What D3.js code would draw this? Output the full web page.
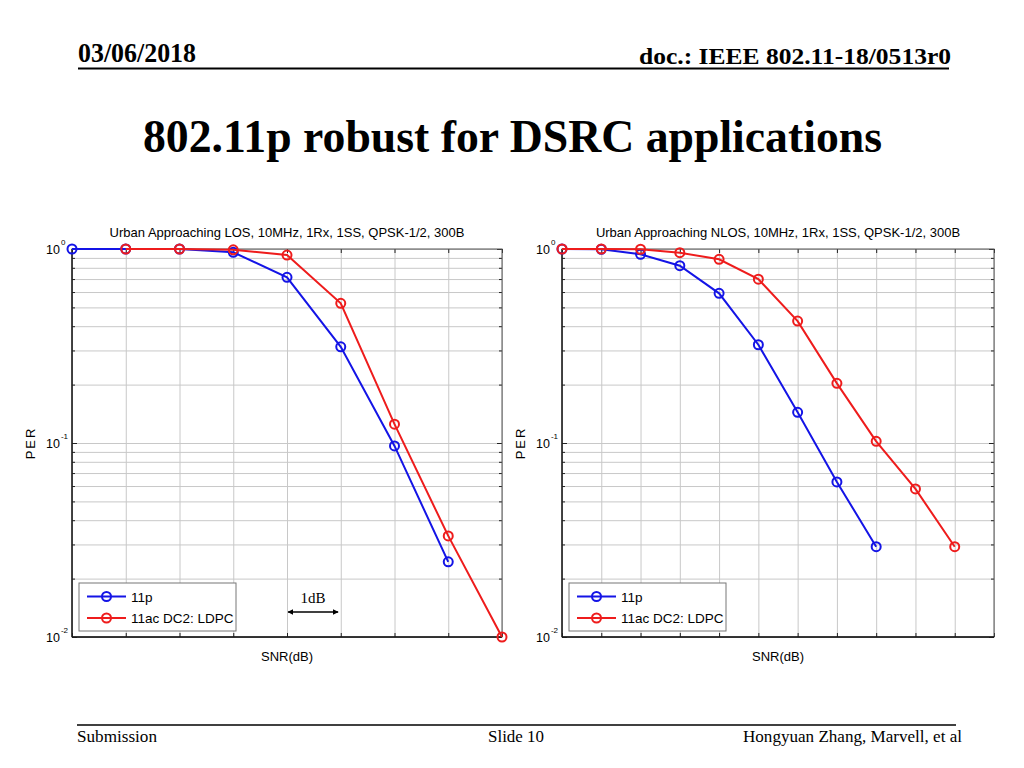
<!DOCTYPE html>
<html>
<head>
<meta charset="utf-8">
<script src="https://cdn.jsdelivr.net/npm/d3@7"></script>
<style>
  body { margin: 0; background: #fff; }
  .slide text { font-family: "Liberation Serif", "Times New Roman", serif; fill: #000; }
  .chart text { font-family: "Liberation Sans", Arial, sans-serif; fill: #000; }
  .grid line { stroke: #c8c8c8; stroke-width: 1; }
  .grid .domain { display: none; }
  .ticks line { stroke: #222; stroke-width: 1; }
  .ticks .domain { display: none; }
</style>
</head>
<body>
<div id="slide"></div>
<script>
// LOS panel values (SNR step index, PER)
const losSnr11p = [0, 1, 2, 3, 4, 5, 6, 7];
const losPer11p = [1.0, 1.0, 1.0, 0.962, 0.715, 0.313, 0.0966, 0.0244];
const losSnr11ac = [1, 2, 3, 4, 5, 6, 7, 8];
const losPer11ac = [1.0, 1.0, 0.99, 0.931, 0.525, 0.125, 0.0332, 0.01];
const losTicks = [0, 1, 2, 3, 4, 5, 6, 7, 8];

// NLOS panel values
const nlosSnr11p = [0, 1, 2, 3, 4, 5, 6, 7, 8];
const nlosPer11p = [1.0, 0.997, 0.939, 0.82, 0.591, 0.321, 0.144, 0.063, 0.0292];
const nlosSnr11ac = [0, 1, 2, 3, 4, 5, 6, 7, 8, 9, 10];
const nlosPer11ac = [1.0, 1.0, 0.997, 0.957, 0.885, 0.699, 0.425, 0.203, 0.102, 0.058, 0.0292];
const nlosTicks = [0, 1, 2, 3, 4, 5, 6, 7, 8, 9, 10, 11];

const perTicks = [1, 0.1, 0.01];
const perTickExp = ["0", "-1", "-2"];
const perMinorTicks = [0.9, 0.8, 0.7, 0.6, 0.5, 0.4, 0.3, 0.2, 0.09, 0.08, 0.07, 0.06, 0.05, 0.04, 0.03, 0.02];

const seriesNames = ["11p", "11ac DC2: LDPC"];
const seriesColors = ["#1414e6", "#ee1c1c"];

const svg = d3.select("#slide").append("svg")
    .attr("width", 1024)
    .attr("height", 768)
    .attr("class", "slide");

const defs = svg.append("defs");
defs.append("marker")
    .attr("id", "arrow")
    .attr("viewBox", "0 0 10 10")
    .attr("refX", 9)
    .attr("refY", 5)
    .attr("markerWidth", 4)
    .attr("markerHeight", 4)
    .attr("orient", "auto-start-reverse")
  .append("path")
    .attr("d", "M0,0L10,5L0,10Z")
    .attr("fill", "#000");

// slide header / footer
svg.append("text").attr("x", 78).attr("y", 62)
    .attr("font-size", 27).attr("font-weight", "bold")
    .attr("textLength", 118).attr("lengthAdjust", "spacingAndGlyphs")
    .text("03/06/2018");
svg.append("text").attr("x", 639).attr("y", 64)
    .attr("font-size", 23).attr("font-weight", "bold")
    .attr("textLength", 312).attr("lengthAdjust", "spacingAndGlyphs")
    .text("doc.: IEEE 802.11-18/0513r0");
svg.append("line").attr("x1", 78).attr("x2", 949).attr("y1", 68.5).attr("y2", 68.5)
    .attr("stroke", "#000").attr("stroke-width", 2);
svg.append("text").attr("x", 143).attr("y", 152)
    .attr("font-size", 46).attr("font-weight", "bold")
    .attr("textLength", 739).attr("lengthAdjust", "spacingAndGlyphs")
    .text("802.11p robust for DSRC applications");
svg.append("line").attr("x1", 77).attr("x2", 956).attr("y1", 725).attr("y2", 725)
    .attr("stroke", "#000").attr("stroke-width", 1.5);
svg.append("text").attr("x", 77).attr("y", 742).attr("font-size", 16)
    .attr("textLength", 80).attr("lengthAdjust", "spacingAndGlyphs").text("Submission");
svg.append("text").attr("x", 488).attr("y", 742).attr("font-size", 16)
    .attr("textLength", 56).attr("lengthAdjust", "spacingAndGlyphs").text("Slide 10");
svg.append("text").attr("x", 743).attr("y", 742).attr("font-size", 16)
    .attr("textLength", 219).attr("lengthAdjust", "spacingAndGlyphs").text("Hongyuan Zhang, Marvell, et al");

function drawPanel(p) {
  const w = p.right - p.left;
  const h = p.bottom - p.top;
  const g = svg.append("g")
      .attr("class", "chart")
      .attr("transform", `translate(${p.left},${p.top})`);

  const x = d3.scaleLinear()
      .domain(d3.extent(p.xTicks))
      .range([0, w]);
  const y = d3.scaleLog()
      .domain([0.01, 1])
      .range([h, 0]);

  // grid
  g.append("g").attr("class", "grid")
      .attr("transform", `translate(0,${h})`)
      .call(d3.axisBottom(x).tickValues(p.xTicks).tickSize(-h).tickFormat(""));
  g.append("g").attr("class", "grid")
      .call(d3.axisLeft(y).tickValues(perMinorTicks.concat(perTicks)).tickSize(-w).tickFormat(""));

  // inward ticks on all four sides
  g.append("g").attr("class", "ticks").attr("transform", `translate(0,${h})`)
      .call(d3.axisTop(x).tickValues(p.xTicks).tickSize(4).tickFormat(""));
  g.append("g").attr("class", "ticks")
      .call(d3.axisBottom(x).tickValues(p.xTicks).tickSize(4).tickFormat(""));
  g.append("g").attr("class", "ticks")
      .call(d3.axisRight(y).tickValues(perMinorTicks).tickSize(3).tickFormat(""));
  g.append("g").attr("class", "ticks")
      .call(d3.axisRight(y).tickValues(perTicks).tickSize(5).tickFormat(""));
  g.append("g").attr("class", "ticks").attr("transform", `translate(${w},0)`)
      .call(d3.axisLeft(y).tickValues(perMinorTicks).tickSize(3).tickFormat(""));
  g.append("g").attr("class", "ticks").attr("transform", `translate(${w},0)`)
      .call(d3.axisLeft(y).tickValues(perTicks).tickSize(5).tickFormat(""));

  // axes box
  g.append("rect")
      .attr("width", w).attr("height", h)
      .attr("fill", "none").attr("stroke", "#555").attr("stroke-width", 1);
  g.append("line").attr("x1", 0).attr("x2", 0).attr("y1", 0).attr("y2", h)
      .attr("stroke", "#111").attr("stroke-width", 1.3);
  g.append("line").attr("x1", 0).attr("x2", w).attr("y1", h).attr("y2", h)
      .attr("stroke", "#111").attr("stroke-width", 1.3);

  // y tick labels 10^n
  const yl = g.selectAll(".ylab")
      .data(perTicks)
    .join("text")
      .attr("class", "ylab")
      .attr("x", -26)
      .attr("y", d => y(d) + 5)
      .attr("font-size", 12.5);
  yl.append("tspan").text("10");
  yl.append("tspan")
      .attr("dy", -9)
      .attr("dx", 1)
      .attr("font-size", 8)
      .text((d, i) => perTickExp[i]);

  // series
  const line = d3.line()
      .x(d => x(d[0]))
      .y(d => y(d[1]));

  p.series.forEach((s, i) => {
    const pts = d3.zip(s.snr, s.per);
    g.append("path")
        .datum(pts)
        .attr("d", line)
        .attr("fill", "none")
        .attr("stroke", seriesColors[i])
        .attr("stroke-width", 2);
    g.selectAll(null)
        .data(pts)
      .join("circle")
        .attr("cx", d => x(d[0]))
        .attr("cy", d => y(d[1]))
        .attr("r", 4.5)
        .attr("fill", "none")
        .attr("stroke", seriesColors[i])
        .attr("stroke-width", 2);
  });

  // title and labels
  g.append("text")
      .attr("x", w / 2)
      .attr("y", -12)
      .attr("text-anchor", "middle")
      .attr("font-size", 13)
      .text(p.title);
  g.append("text")
      .attr("x", w / 2)
      .attr("y", h + 24)
      .attr("text-anchor", "middle")
      .attr("font-size", 13)
      .text("SNR(dB)");
  g.append("text")
      .attr("transform", `translate(-37,${h / 2}) rotate(-90)`)
      .attr("text-anchor", "middle")
      .attr("font-size", 13)
      .attr("letter-spacing", 2)
      .text("PER");

  // legend
  const lg = g.append("g").attr("transform", `translate(7,${h - 54})`);
  lg.append("rect")
      .attr("width", 157).attr("height", 48)
      .attr("fill", "#fff").attr("stroke", "#777").attr("stroke-width", 1);
  seriesNames.forEach((name, i) => {
    const ly = 13.5 + i * 21.5;
    lg.append("line")
        .attr("x1", 8).attr("x2", 47).attr("y1", ly).attr("y2", ly)
        .attr("stroke", seriesColors[i]).attr("stroke-width", 2);
    lg.append("circle")
        .attr("cx", 27.5).attr("cy", ly).attr("r", 4.5)
        .attr("fill", "none").attr("stroke", seriesColors[i]).attr("stroke-width", 2);
    lg.append("text")
        .attr("x", 52).attr("y", ly + 5)
        .attr("font-size", 13.5)
        .text(name);
  });

  if (p.note) {
    g.append("line")
        .attr("x1", x(p.note.x0)).attr("x2", x(p.note.x1))
        .attr("y1", y(p.note.per)).attr("y2", y(p.note.per))
        .attr("stroke", "#000").attr("stroke-width", 1.5)
        .attr("marker-start", "url(#arrow)")
        .attr("marker-end", "url(#arrow)");
    g.append("text")
        .attr("x", x((p.note.x0 + p.note.x1) / 2))
        .attr("y", y(p.note.per) - 9)
        .attr("text-anchor", "middle")
        .attr("font-size", 15)
        .style("font-family", "'Liberation Serif', 'Times New Roman', serif")
        .text(p.note.label);
  }
}

drawPanel({
  left: 72, right: 502, top: 249, bottom: 637,
  xTicks: losTicks,
  title: "Urban Approaching LOS, 10MHz, 1Rx, 1SS, QPSK-1/2, 300B",
  series: [
    {snr: losSnr11p, per: losPer11p},
    {snr: losSnr11ac, per: losPer11ac}
  ],
  note: {x0: 4.02, x1: 4.95, per: 0.01345, label: "1dB"}
});

drawPanel({
  left: 562, right: 994, top: 249, bottom: 637,
  xTicks: nlosTicks,
  title: "Urban Approaching NLOS, 10MHz, 1Rx, 1SS, QPSK-1/2, 300B",
  series: [
    {snr: nlosSnr11p, per: nlosPer11p},
    {snr: nlosSnr11ac, per: nlosPer11ac}
  ]
});
</script>
</body>
</html>
